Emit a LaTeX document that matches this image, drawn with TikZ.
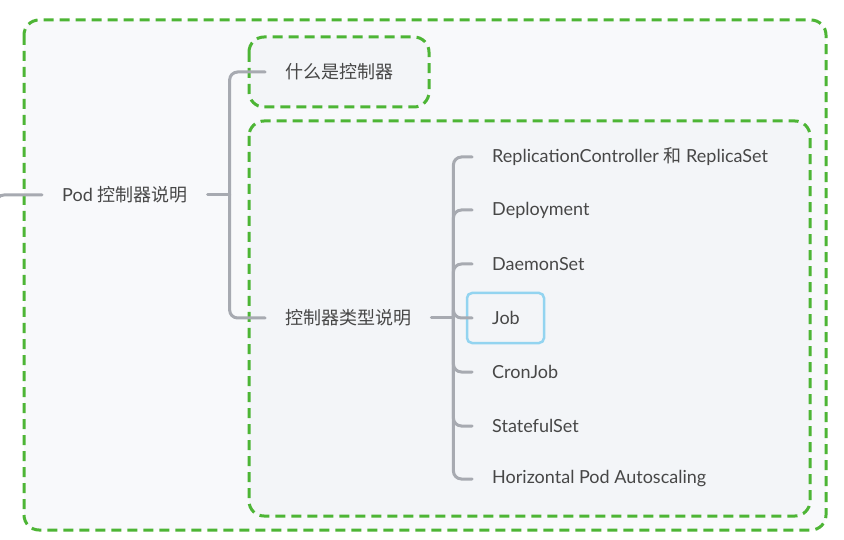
\documentclass[tikz,border=0pt]{standalone}
\usepackage{fontspec}
\setmainfont{Lato}
\newfontfamily\cjk{Noto Sans CJK SC}
\usetikzlibrary{calc}

\definecolor{boxgreen}{HTML}{4DB535}
\definecolor{linegray}{HTML}{A7AAB1}
\definecolor{textgray}{HTML}{474747}
\definecolor{outerfill}{HTML}{F8F9FB}
\definecolor{innerfill}{HTML}{F3F5F8}
\definecolor{selblue}{HTML}{93D4F0}

\tikzset{
    topic/.style={inner xsep=20pt, inner ysep=6pt, anchor=west, text=textgray,
        font=\fontsize{18}{21}\selectfont},
    branch/.style={draw=linegray, line width=3pt, rounded corners=8pt, line cap=round},
    groupbox/.style={draw=boxgreen, line width=3pt, dash pattern=on 10pt off 6pt, rounded corners=15pt},
}

\begin{document}
\begin{tikzpicture}[x=1pt, y=-1pt]
        \useasboundingbox[fill=white] (0,0) rectangle (844,540);

        % dashed groups
        \draw[groupbox, fill=outerfill] (24,20) rectangle (826,530);
        \draw[groupbox, fill=innerfill] (249,37) rectangle (429,107);
        \draw[groupbox, fill=innerfill] (249,121) rectangle (810,516);

        % topics
        \node[topic] (pod) at (42,195) {Pod {\cjk 控制器说明}};
        \node[topic] (what) at (265,72) {\cjk 什么是控制器};
        \node[topic] (types) at (265,318) {\cjk 控制器类型说明};

        \node[topic] (rc) at (472,157) {ReplicationController {\cjk 和} ReplicaSet};
        \node[topic] (deploy) at (472,210) {Deployment};
        \node[topic] (daemon) at (472,264) {DaemonSet};
        \node[topic, inner ysep=16pt] (job) at (472,318) {Job};
        \node[topic] (cron) at (472,372) {CronJob};
        \node[topic] (stateful) at (472,426) {StatefulSet};
        \node[topic] (hpa) at (472,479) {Horizontal Pod Autoscaling};

        % selected topic
        \draw[selblue, line width=2.5pt, rounded corners=5pt] (467,293) rectangle (544,343);

        % branches
        \coordinate (rootbus) at (-4,220);
        \draw[branch] (rootbus) |- (pod.west);

        \coordinate (podbus) at ([xshift=22pt]pod.east);
        \draw[branch] (pod.east) -- (podbus);
        \foreach \child in {what, types} {
            \draw[branch] (podbus) |- (\child.west);
        }

        \coordinate (typebus) at ([xshift=22pt]types.east);
        \draw[branch] (types.east) -- (typebus);
        \foreach \child in {rc, deploy, daemon, job, cron, stateful, hpa} {
            \draw[branch] (typebus) |- (\child.west);
        }

    \end{tikzpicture}
\end{document}
